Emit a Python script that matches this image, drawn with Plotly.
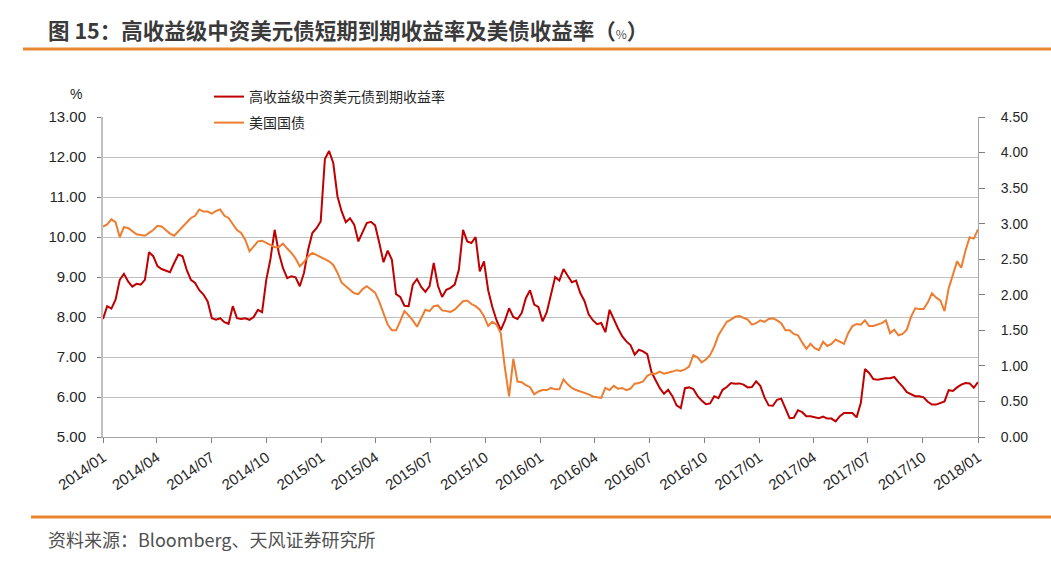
import plotly.graph_objects as go
import pandas as pd

# ---------------- data ----------------
hy_yield = [
    7.95, 8.27, 8.21, 8.43, 8.93, 9.08, 8.89, 8.76, 8.83, 8.81,
    8.93, 9.62, 9.52, 9.27, 9.20, 9.16, 9.12, 9.35, 9.56, 9.52,
    9.18, 8.93, 8.85, 8.67, 8.56, 8.39, 7.97, 7.93, 7.97, 7.87,
    7.83, 8.27, 7.97, 7.95, 7.97, 7.93, 8.00, 8.18, 8.12, 8.93,
    9.45, 10.18, 9.60, 9.22, 8.97, 9.02, 8.99, 8.77, 9.10, 9.68,
    10.10, 10.22, 10.39, 11.95, 12.15, 11.85, 11.02, 10.64, 10.37, 10.47,
    10.31, 9.89, 10.14, 10.35, 10.38, 10.29, 9.85, 9.37, 9.66, 9.43,
    8.57, 8.50, 8.28, 8.27, 8.81, 8.95, 8.75, 8.63, 8.77, 9.35,
    8.78, 8.50, 8.68, 8.73, 8.81, 9.18, 10.18, 9.89, 9.85, 10.00,
    9.14, 9.39, 8.67, 8.25, 7.92, 7.67, 7.91, 8.22, 8.00, 7.95,
    8.10, 8.47, 8.67, 8.31, 8.25, 7.89, 8.12, 8.60, 9.00, 8.91,
    9.20, 9.03, 8.87, 8.91, 8.60, 8.40, 8.07, 7.92, 7.82, 7.85,
    7.62, 8.18, 7.93, 7.72, 7.52, 7.39, 7.30, 7.06, 7.18, 7.14,
    7.07, 6.63, 6.42, 6.22, 6.08, 6.18, 6.02, 5.79, 5.72, 6.22,
    6.24, 6.20, 6.03, 5.91, 5.82, 5.84, 6.02, 5.97, 6.18, 6.25,
    6.35, 6.33, 6.34, 6.31, 6.24, 6.25, 6.39, 6.28, 5.99, 5.79,
    5.78, 5.93, 5.96, 5.72, 5.47, 5.48, 5.67, 5.62, 5.52, 5.52,
    5.50, 5.47, 5.51, 5.46, 5.46, 5.39, 5.52, 5.60, 5.60, 5.60,
    5.49, 5.85, 6.70, 6.60, 6.45, 6.43, 6.45, 6.47, 6.47, 6.50,
    6.37, 6.26, 6.12, 6.07, 6.02, 6.02, 5.99, 5.88, 5.81, 5.81,
    5.85, 5.89, 6.17, 6.15, 6.24, 6.31, 6.35, 6.34, 6.23, 6.37,
]

ust_yield = [
    2.96, 2.99, 3.06, 3.02, 2.81, 2.95, 2.94, 2.89, 2.85, 2.84,
    2.83, 2.87, 2.91, 2.97, 2.96, 2.91, 2.86, 2.83, 2.89, 2.95,
    3.01, 3.08, 3.11, 3.20, 3.17, 3.17, 3.14, 3.18, 3.20, 3.11,
    3.08, 3.00, 2.91, 2.87, 2.77, 2.61, 2.68, 2.75, 2.76, 2.73,
    2.70, 2.67, 2.67, 2.72, 2.65, 2.59, 2.51, 2.40, 2.46, 2.54,
    2.59, 2.56, 2.54, 2.50, 2.47, 2.42, 2.31, 2.17, 2.12, 2.07,
    2.02, 2.01, 2.08, 2.12, 2.08, 2.03, 1.90, 1.74, 1.58, 1.50,
    1.50, 1.63, 1.77, 1.71, 1.64, 1.55, 1.67, 1.79, 1.77, 1.84,
    1.85, 1.78, 1.77, 1.76, 1.79, 1.85, 1.91, 1.92, 1.87, 1.84,
    1.79, 1.70, 1.56, 1.62, 1.58, 1.46, 0.97, 0.57, 1.10, 0.78,
    0.77, 0.73, 0.70, 0.60, 0.64, 0.66, 0.66, 0.69, 0.67, 0.67,
    0.81, 0.74, 0.69, 0.66, 0.64, 0.63, 0.60, 0.57, 0.56, 0.55,
    0.69, 0.66, 0.72, 0.68, 0.69, 0.66, 0.68, 0.75, 0.76, 0.78,
    0.86, 0.89, 0.89, 0.92, 0.89, 0.90, 0.92, 0.94, 0.93, 0.95,
    0.99, 1.15, 1.12, 1.05, 1.09, 1.15, 1.27, 1.43, 1.53, 1.62,
    1.65, 1.69, 1.70, 1.67, 1.65, 1.58, 1.60, 1.64, 1.62, 1.66,
    1.67, 1.64, 1.60, 1.50, 1.50, 1.45, 1.43, 1.33, 1.24, 1.31,
    1.25, 1.22, 1.34, 1.28, 1.31, 1.37, 1.34, 1.31, 1.46, 1.56,
    1.59, 1.58, 1.64, 1.56, 1.56, 1.58, 1.60, 1.64, 1.46, 1.51,
    1.43, 1.45, 1.51, 1.69, 1.81, 1.80, 1.80, 1.89, 2.02, 1.96,
    1.92, 1.77, 2.09, 2.28, 2.47, 2.38, 2.62, 2.81, 2.79, 2.92,
]

x_tick_labels = ["2014/01", "2014/04", "2014/07", "2014/10",
                 "2015/01", "2015/04", "2015/07", "2015/10",
                 "2016/01", "2016/04", "2016/07", "2016/10",
                 "2017/01", "2017/04", "2017/07", "2017/10", "2018/01"]
left_ticks = [5, 6, 7, 8, 9, 10, 11, 12, 13]
right_ticks = [0, 0.5, 1, 1.5, 2, 2.5, 3, 3.5, 4, 4.5]

series_names = ["高收益级中资美元债到期收益率", "美国国债"]
title_main = "图 15：高收益级中资美元债短期到期收益率及美债收益率（"
title_unit = "%"
title_close = "）"
source_text = "资料来源：Bloomberg、天风证券研究所"

dates = pd.date_range("2014-01-01", "2018-01-01", periods=len(hy_yield))
x_tick_vals = [lbl.replace("/", "-") + "-01" for lbl in x_tick_labels]

# ---------------- layout helpers ----------------
W, H = 1051, 570
L, R, T, B = 103, 73, 117, 133
PW, PH = W - L - R, H - T - B


def px(x):
    return (x - L) / PW


def py(y):
    return (H - B - y) / PH


CJK = "Noto Sans CJK SC"
LAT = "Liberation Sans, Arial"
RED = "#C00000"
ORANGE = "#ED7D31"
RULE = "#E8852F"
GRID = "#BFBFBF"

fig = go.Figure()
fig.add_trace(go.Scatter(x=dates, y=hy_yield, name=series_names[0], mode="lines",
                         line=dict(color=RED, width=2), legend="legend"))
fig.add_trace(go.Scatter(x=dates, y=ust_yield, name=series_names[1], mode="lines",
                         yaxis="y2", line=dict(color=ORANGE, width=2), legend="legend2"))

fig.update_layout(
    width=W, height=H,
    margin=dict(l=L, r=R, t=T, b=B, pad=0),
    paper_bgcolor="white", plot_bgcolor="white",
    showlegend=True,
    xaxis=dict(
        type="date", range=["2014-01-01", "2018-01-01"],
        tickvals=x_tick_vals, ticktext=x_tick_labels, tickangle=-35,
        ticks="outside", ticklen=5, tickcolor="#7F7F7F", tickwidth=1,
        showline=True, linecolor="#A6A6A6", linewidth=1,
        showgrid=False, zeroline=False,
        tickfont=dict(family=LAT, size=15, color="#262626"),
    ),
    yaxis=dict(
        range=[5, 13], tickvals=left_ticks, tickformat=".2f",
        ticks="outside", ticklen=4, tickcolor="#7F7F7F", tickwidth=1,
        showline=True, linecolor=GRID, linewidth=2,
        showgrid=True, gridcolor=GRID, gridwidth=1, zeroline=False,
        tickfont=dict(family=LAT, size=15, color="#262626"),
        ticklabelstandoff=8,
    ),
    yaxis2=dict(
        range=[0, 4.5], tickvals=right_ticks, tickformat=".2f",
        overlaying="y", side="right",
        ticks="outside", ticklen=6, tickcolor="#7F7F7F", tickwidth=1,
        showline=True, linecolor="#A6A6A6", linewidth=1,
        showgrid=False, zeroline=False,
        tickfont=dict(family=LAT, size=14, color="#262626"),
        ticklabelstandoff=13,
    ),
    legend=dict(x=px(209), y=py(97), xanchor="left", yanchor="middle",
                bgcolor="rgba(0,0,0,0)", borderwidth=0,
                font=dict(family=CJK, size=14, color="#262626")),
    legend2=dict(x=px(209), y=py(123), xanchor="left", yanchor="middle",
                 bgcolor="rgba(0,0,0,0)", borderwidth=0,
                 font=dict(family=CJK, size=14, color="#262626")),
)

title_html = ("<b>" + title_main + "</b>"
              + "<span style='font-size:12px;color:#555555'>" + title_unit + "</span>"
              + "<b>" + title_close + "</b>")

annotations = [
    dict(text=title_html, x=px(46), y=py(30), xref="paper", yref="paper",
         xanchor="left", yanchor="middle", showarrow=False,
         font=dict(family=CJK, size=21.5, color="#3A3A3A")),
    dict(text="%", x=px(76), y=py(94), xref="paper", yref="paper",
         xanchor="center", yanchor="middle", showarrow=False,
         font=dict(family=LAT, size=14, color="#262626")),
    dict(text=source_text, x=px(46), y=py(539), xref="paper", yref="paper",
         xanchor="left", yanchor="middle", showarrow=False,
         font=dict(family=CJK, size=18, color="#505050")),
]
fig.update_layout(annotations=annotations)

fig.add_shape(type="line", xref="paper", yref="paper",
              x0=px(23), x1=px(W), y0=py(49), y1=py(49),
              line=dict(color=RULE, width=3))
fig.add_shape(type="line", xref="paper", yref="paper",
              x0=px(31), x1=px(W), y0=py(517), y1=py(517),
              line=dict(color=RULE, width=3))

fig.write_html("out.html")
